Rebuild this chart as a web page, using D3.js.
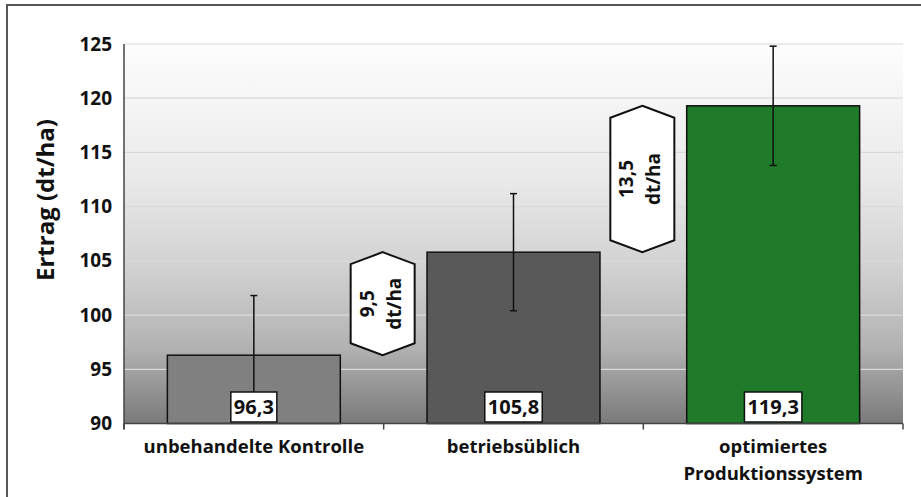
<!DOCTYPE html>
<html><head><meta charset="utf-8">
<script src="https://cdn.jsdelivr.net/npm/d3@7"></script>
<style>
html,body{margin:0;padding:0;background:#fff;}
svg{display:block;font-family:"Open Sans",sans-serif;}
</style></head>
<body>
<svg id="chart" width="921" height="497"></svg>
<script>
const categories = ["unbehandelte Kontrolle", "betriebsüblich", "optimiertes Produktionssystem"];
const categoryLines = [["unbehandelte Kontrolle"], ["betriebsüblich"], ["optimiertes", "Produktionssystem"]];
const values = [96.3, 105.8, 119.3];
const errors = [5.5, 5.4, 5.5];
const valueLabels = ["96,3", "105,8", "119,3"];
const diffLabels = [["9,5", "dt/ha"], ["13,5", "dt/ha"]];
const yTicks = [90, 95, 100, 105, 110, 115, 120, 125];
const barColors = ["#808080", "#595959", "#1f7a2a"];
const yTitle = "Ertrag (dt/ha)";

const svg = d3.select("#chart");
const L = 124, R = 903, T = 44, B = 423.5;
const FW = 700;

const x = d3.scaleBand().domain(categories).range([L, R]).paddingInner(0.334).paddingOuter(0.167);
const y = d3.scaleLinear().domain([90, 125]).range([B, T]);

// outer frame (left & top visible)
svg.append("path").attr("d", `M7,497 V5 H921`).attr("fill", "none").attr("stroke", "#555").attr("stroke-width", 2);

// background gradient
const defs = svg.append("defs");
const g = defs.append("linearGradient").attr("id", "bg").attr("x1", 0).attr("y1", 0).attr("x2", 0).attr("y2", 1);
[[0, "#fdfdfd"], [0.35, "#eaeaea"], [0.6, "#d0d0d0"], [0.8, "#b2b2b2"], [1, "#7a7a7a"]].forEach(([o, c]) =>
  g.append("stop").attr("offset", o).attr("stop-color", c));
svg.append("rect").attr("x", L).attr("y", T).attr("width", R - L).attr("height", B - T).attr("fill", "url(#bg)");

// gridlines
svg.append("g").selectAll("line").data(yTicks.slice(1)).join("line")
  .attr("x1", L).attr("x2", R).attr("y1", d => y(d)).attr("y2", d => y(d))
  .attr("stroke", "#dadada").attr("stroke-width", 1.2);

// bars
svg.append("g").selectAll("rect").data(values).join("rect")
  .attr("x", (d, i) => x(categories[i])).attr("width", x.bandwidth())
  .attr("y", d => y(d)).attr("height", d => y(90) - y(d))
  .attr("fill", (d, i) => barColors[i]).attr("stroke", "#111").attr("stroke-width", 1.5);

// error bars
const eb = svg.append("g").attr("stroke", "#111").attr("stroke-width", 1.5);
values.forEach((v, i) => {
  const cx = x(categories[i]) + x.bandwidth() / 2;
  eb.append("line").attr("x1", cx).attr("x2", cx).attr("y1", y(v - errors[i])).attr("y2", y(v + errors[i]));
  [v - errors[i], v + errors[i]].forEach(e =>
    eb.append("line").attr("x1", cx - 3.5).attr("x2", cx + 3.5).attr("y1", y(e)).attr("y2", y(e)));
});

// difference hexagons
diffLabels.forEach((lines, i) => {
  const cx = x(categories[i + 1]) - x.step() * x.paddingInner() / 2 - 1;
  const yt = y(values[i + 1]), yb = y(values[i]);
  const hw = 32, tip = 12;
  const pts = [[cx, yt], [cx + hw, yt + tip], [cx + hw, yb - tip], [cx, yb], [cx - hw, yb - tip], [cx - hw, yt + tip]];
  svg.append("path").attr("d", d3.line()(pts) + "Z").attr("fill", "#fff").attr("stroke", "#111").attr("stroke-width", 2);
  const cy = (yt + yb) / 2;
  const t = svg.append("text").attr("transform", `translate(${cx},${cy}) rotate(-90)`)
    .attr("text-anchor", "middle").attr("font-weight", FW).attr("font-size", 19).attr("fill", "#111");
  t.append("tspan").attr("x", 0).attr("y", -9).text(lines[0]);
  t.append("tspan").attr("x", 0).attr("y", 18).text(lines[1]);
});

// value label boxes
values.forEach((v, i) => {
  const cx = x(categories[i]) + x.bandwidth() / 2;
  const gg = svg.append("g");
  const txt = gg.append("text").attr("x", cx).attr("y", 414).attr("text-anchor", "middle")
    .attr("font-weight", FW).attr("font-size", 20).attr("fill", "#111").text(valueLabels[i]);
  const w = txt.node().getComputedTextLength() + 6;
  gg.insert("rect", "text").attr("x", cx - w / 2).attr("y", 392).attr("width", w).attr("height", 30)
    .attr("fill", "#fff").attr("stroke", "#111").attr("stroke-width", 1.5);
});

// y axis
const ya = svg.append("g").attr("transform", `translate(${L},0)`)
  .call(d3.axisLeft(y).tickValues(yTicks).tickSize(0).tickPadding(12));
ya.select(".domain").attr("stroke", "#444").attr("stroke-width", 1.5).attr("d", `M0,${T}V${B + 6}`);
ya.selectAll("text").attr("font-family", "Open Sans, sans-serif").attr("font-size", 19).attr("font-weight", FW).attr("fill", "#111");

// x axis
const xa = svg.append("g");
xa.append("line").attr("x1", L).attr("x2", R).attr("y1", B).attr("y2", B).attr("stroke", "#444").attr("stroke-width", 1.5);
const bounds = [L].concat(categories.map(c => x(c) + x.bandwidth() + x.step() * x.paddingInner() / 2));
xa.selectAll(".tk").data(bounds).join("line").attr("class", "tk")
  .attr("x1", d => d).attr("x2", d => d).attr("y1", B).attr("y2", B + 6).attr("stroke", "#444").attr("stroke-width", 1.5);
categoryLines.forEach((lines, i) => {
  const cx = x(categories[i]) + x.bandwidth() / 2;
  const t = xa.append("text").attr("text-anchor", "middle").attr("font-weight", FW).attr("font-size", 18.5).attr("fill", "#111");
  lines.forEach((ln, j) => t.append("tspan").attr("x", cx).attr("y", 453 + j * 26.5).text(ln));
});

// y title
svg.append("text").attr("transform", `translate(54,200) rotate(-90)`).attr("text-anchor", "middle")
  .attr("font-weight", FW).attr("font-size", 24).attr("fill", "#111").text(yTitle);
</script>
</body></html>
